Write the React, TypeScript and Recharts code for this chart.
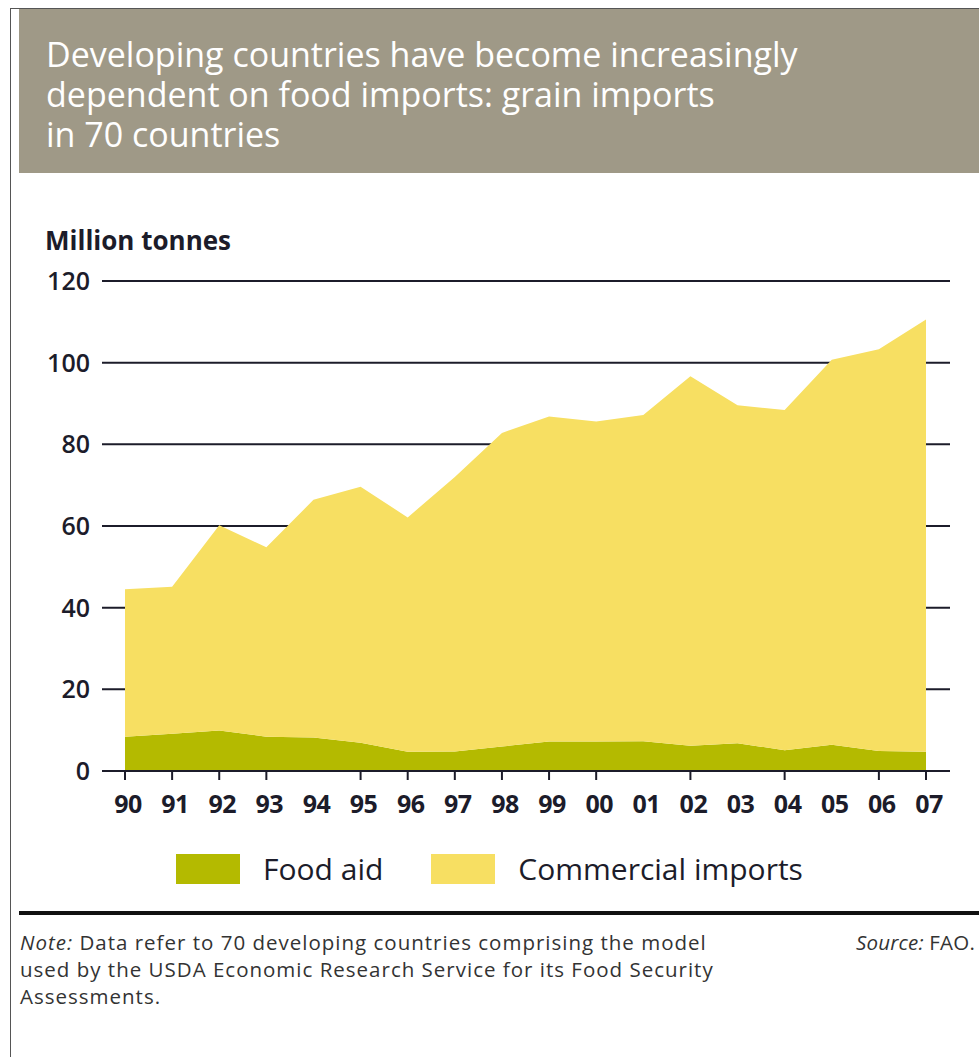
import { AreaChart, Area, XAxis, YAxis, CartesianGrid } from 'recharts'

const YEARS = ['90', '91', '92', '93', '94', '95', '96', '97', '98', '99', '00', '01', '02', '03', '04', '05', '06', '07']
// million tonnes
const FOOD_AID = [8.4, 9.1, 9.9, 8.4, 8.2, 6.9, 4.7, 4.8, 6.0, 7.2, 7.2, 7.3, 6.2, 6.8, 5.1, 6.4, 4.9, 4.7]
const COMMERCIAL = [36.1, 36.0, 50.3, 46.4, 58.2, 62.7, 57.4, 67.2, 76.8, 79.6, 78.4, 79.9, 90.5, 82.8, 83.3, 94.3, 98.4, 105.9]
const Y_TICKS = [0, 20, 40, 60, 80, 100, 120]
// the original only draws tick marks under some of the years
const TICKED_YEARS = ['90', '91', '92', '93', '95', '96', '97', '98', '99', '00', '02', '04', '06', '07']

const TITLE_LINES = [
  'Developing countries have become increasingly',
  'dependent on food imports: grain imports',
  'in 70 countries',
]

const GREEN = '#b4ba00'
const YELLOW = '#f7df62'
const INK = '#1c1c2a'
const FONT = '"Open Sans", "Noto Sans", sans-serif'

const SERIES = [
  { key: 'foodAid', name: 'Food aid', color: GREEN },
  { key: 'commercial', name: 'Commercial imports', color: YELLOW },
]

const data = YEARS.map((year, i) => ({ year, foodAid: FOOD_AID[i], commercial: COMMERCIAL[i] }))

function YearTick(props: any) {
  const { x, y, payload } = props
  const marked = TICKED_YEARS.includes(payload.value)
  return (
    <g>
      {marked && <line x1={x} x2={x} y1={y} y2={y + 9} stroke={INK} strokeWidth={2} />}
      <text
        x={x + 3}
        y={y + 42}
        textAnchor="middle"
        fontFamily={FONT}
        fontSize={25}
        fontWeight={700}
        letterSpacing={-0.5}
        fill={INK}
      >
        {payload.value}
      </text>
    </g>
  )
}

export default function App() {
  return (
    <div style={{ position: 'absolute', left: 0, top: 0, width: 979, height: 1057, background: '#fff', fontFamily: FONT }}>
      {/* frame */}
      <div style={{ position: 'absolute', left: 10, top: 8, width: 969, height: 1049, borderLeft: '1px solid #555', borderTop: '1px solid #555' }} />
      {/* title box */}
      <div
        style={{
          position: 'absolute',
          left: 19,
          top: 9,
          width: 960,
          height: 164,
          background: '#9f9987',
          color: '#fff',
          fontSize: 34,
          boxSizing: 'border-box',
          padding: '25px 0 0 27px',
          letterSpacing: 0,
        }}
      >
        {TITLE_LINES.map((line) => (
          <div key={line} style={{ height: 40, lineHeight: '40px', whiteSpace: 'nowrap' }}>
            {line}
          </div>
        ))}
      </div>
      <div style={{ position: 'absolute', left: 45, top: 222, fontSize: 26, fontWeight: 700, color: INK, letterSpacing: 0 }}>
        Million tonnes
      </div>

      <div style={{ position: 'absolute', left: 0, top: 0 }}>
        <AreaChart width={979} height={830} data={data} margin={{ top: 281, right: 29, left: 0, bottom: 0 }}>
          <CartesianGrid vertical={false} stroke={INK} strokeWidth={2} />
          <XAxis
            dataKey="year"
            interval={0}
            padding={{ left: 23, right: 24 }}
            height={59}
            axisLine={{ stroke: INK, strokeWidth: 2 }}
            tickLine={false}
            tickSize={0}
            tickMargin={0}
            tick={<YearTick />}
          />
          <YAxis
            domain={[0, 120]}
            ticks={Y_TICKS}
            width={102}
            axisLine={false}
            tickLine={false}
            tickSize={0}
            tickMargin={12}
            tick={{ fill: INK, fontSize: 25, fontFamily: FONT, fontWeight: 600 }}
          />
          {SERIES.map((s) => (
            <Area
              key={s.key}
              type="linear"
              dataKey={s.key}
              name={s.name}
              stackId="grain"
              stroke="none"
              fill={s.color}
              fillOpacity={1}
              isAnimationActive={false}
            />
          ))}
        </AreaChart>
      </div>

      {/* legend */}
      <div style={{ position: 'absolute', left: 0, top: 848, display: 'flex', alignItems: 'center', fontSize: 30, color: INK }}>
        {SERIES.map((s, i) => (
          <div key={s.key} style={{ display: 'flex', alignItems: 'center', marginLeft: i === 0 ? 176 : 48 }}>
            <div style={{ width: 64, height: 30, background: s.color, marginRight: 23 }} />
            <span>{s.name}</span>
          </div>
        ))}
      </div>

      <div style={{ position: 'absolute', left: 19, top: 911, width: 960, height: 4, background: '#111' }} />
      <div style={{ position: 'absolute', left: 20, top: 929, fontSize: 20.5, lineHeight: '27px', color: '#333', letterSpacing: 1, whiteSpace: 'nowrap' }}>
        <i>Note:</i> Data refer to 70 developing countries comprising the model
        <br />
        used by the USDA Economic Research Service for its Food Security
        <br />
        Assessments.
      </div>
      <div style={{ position: 'absolute', right: 4, top: 929, fontSize: 20.5, lineHeight: '27px', color: '#333', letterSpacing: 0.2 }}>
        <i>Source:</i> FAO.
      </div>
    </div>
  )
}
